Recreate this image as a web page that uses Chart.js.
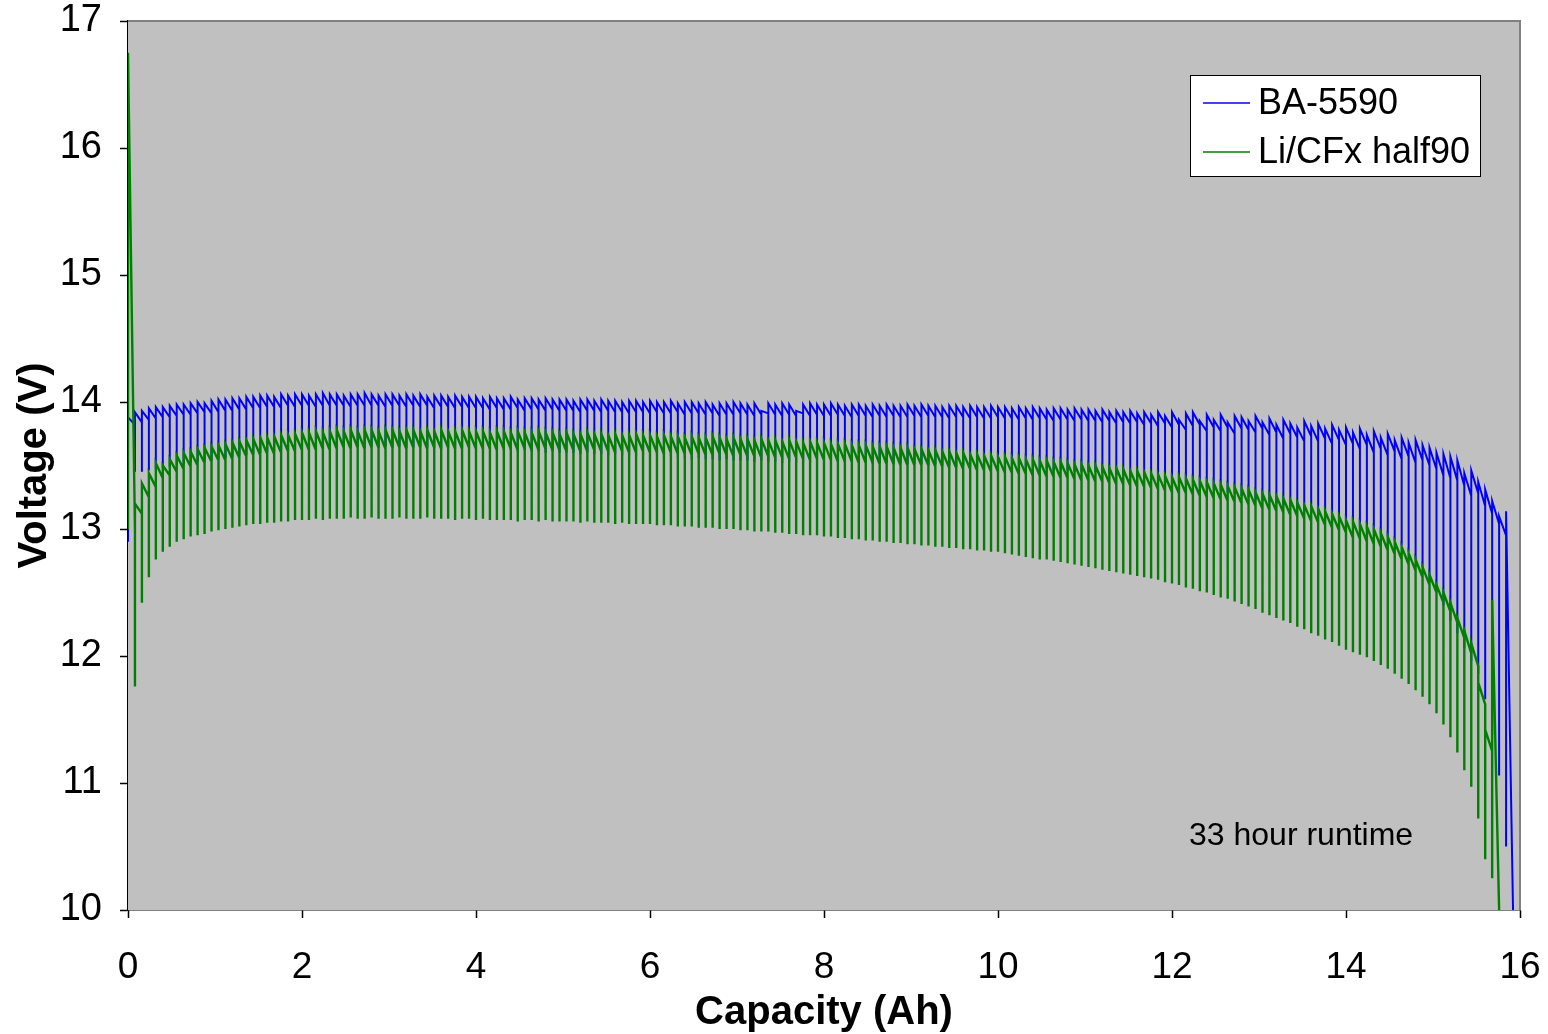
<!DOCTYPE html>
<html>
<head>
<meta charset="utf-8">
<script src="https://cdn.jsdelivr.net/npm/chart.js@4/dist/chart.umd.min.js"></script>
<style>
  html, body { margin: 0; padding: 0; background: #fff; }
  #wrap { width: 1548px; height: 1034px; }
</style>
</head>
<body>
<div id="wrap"><canvas id="chart" width="1548" height="1034"></canvas></div>
<script>
// Pulse discharge, BA-5590 vs Li/CFx half90 (33 hour runtime)

// capacity (Ah) at the start of each load pulse, one row per Ah
const pulseAh = [
  0, 0.08, 0.16, 0.24, 0.32, 0.4, 0.48, 0.56, 0.64, 0.72, 0.8, 0.88, 0.96,
  1.04, 1.12, 1.2, 1.28, 1.36, 1.44, 1.52, 1.6, 1.68, 1.76, 1.84, 1.92,
  2, 2.08, 2.16, 2.24, 2.32, 2.4, 2.48, 2.56, 2.64, 2.72, 2.8, 2.88, 2.96,
  3.04, 3.12, 3.2, 3.28, 3.36, 3.44, 3.52, 3.6, 3.68, 3.76, 3.84, 3.92,
  4, 4.08, 4.16, 4.24, 4.32, 4.4, 4.48, 4.56, 4.64, 4.72, 4.8, 4.88, 4.96,
  5.04, 5.12, 5.2, 5.28, 5.36, 5.44, 5.52, 5.6, 5.68, 5.76, 5.84, 5.92,
  6, 6.08, 6.16, 6.24, 6.32, 6.4, 6.48, 6.56, 6.64, 6.72, 6.8, 6.88, 6.96,
  7.04, 7.12, 7.2, 7.28, 7.36, 7.44, 7.52, 7.6, 7.68, 7.76, 7.84, 7.92,
  8, 8.08, 8.16, 8.24, 8.32, 8.4, 8.48, 8.56, 8.64, 8.72, 8.8, 8.88, 8.96,
  9.04, 9.12, 9.2, 9.28, 9.36, 9.44, 9.52, 9.6, 9.68, 9.76, 9.84, 9.92,
  10, 10.08, 10.16, 10.24, 10.32, 10.4, 10.48, 10.56, 10.64, 10.72, 10.8, 10.88, 10.96,
  11.04, 11.12, 11.2, 11.28, 11.36, 11.44, 11.52, 11.6, 11.68, 11.76, 11.84, 11.92,
  12, 12.08, 12.16, 12.24, 12.32, 12.4, 12.48, 12.56, 12.64, 12.72, 12.8, 12.88, 12.96,
  13.04, 13.12, 13.2, 13.28, 13.36, 13.44, 13.52, 13.6, 13.68, 13.76, 13.84, 13.92,
  14, 14.08, 14.16, 14.24, 14.32, 14.4, 14.48, 14.56, 14.64, 14.72, 14.8, 14.88, 14.96,
  15.04, 15.12, 15.2, 15.28, 15.36, 15.44, 15.52, 15.6, 15.68, 15.76, 15.84, 15.92
];

// BA-5590: voltage at pulse start (under load), recovered peak, and just before next pulse
const blueLoad = [
  12.90, 13.45, 13.45, 13.46, 13.47, 13.48, 13.49, 13.50, 13.51, 13.52, 13.53, 13.53, 13.54,
  13.55, 13.56, 13.57, 13.58, 13.58, 13.59, 13.60, 13.61, 13.61, 13.62, 13.62, 13.63,
  13.63, 13.63, 13.64, 13.64, 13.64, 13.64, 13.65, 13.64, 13.65, 13.64, 13.65, 13.64, 13.65,
  13.64, 13.65, 13.64, 13.64, 13.65, 13.64, 13.64, 13.63, 13.64, 13.63, 13.64, 13.63,
  13.63, 13.62, 13.63, 13.62, 13.62, 13.62, 13.61, 13.62, 13.61, 13.61, 13.60, 13.61, 13.60,
  13.60, 13.60, 13.59, 13.60, 13.59, 13.59, 13.58, 13.59, 13.58, 13.58, 13.57, 13.58,
  13.57, 13.57, 13.56, 13.57, 13.56, 13.56, 13.55, 13.56, 13.55, 13.55, 13.54, 13.55, 13.54,
  13.54, 13.54, 13.53, 13.54, 13.53, 13.53, 13.52, 13.53, 13.52, 13.52, 13.52, 13.53,
  13.52, 13.53, 13.52, 13.52, 13.53, 13.52, 13.52, 13.51, 13.52, 13.52, 13.51, 13.52, 13.51,
  13.51, 13.51, 13.50, 13.51, 13.50, 13.50, 13.49, 13.50, 13.49, 13.49, 13.48, 13.49,
  13.49, 13.49, 13.48, 13.48, 13.48, 13.47, 13.47, 13.47, 13.46, 13.46, 13.46, 13.45, 13.45,
  13.45, 13.45, 13.44, 13.44, 13.43, 13.43, 13.42, 13.42, 13.41, 13.40, 13.40, 13.39,
  13.38, 13.37, 13.36, 13.35, 13.34, 13.33, 13.32, 13.31, 13.29, 13.28, 13.26, 13.25, 13.23,
  13.22, 13.21, 13.20, 13.19, 13.18, 13.16, 13.15, 13.14, 13.13, 13.11, 13.10, 13.08,
  13.06, 13.04, 13.02, 13.00, 12.98, 12.96, 12.94, 12.91, 12.87, 12.82, 12.76, 12.70, 12.62,
  12.52, 12.40, 12.28, 12.18, 12.06, 11.96, 11.86, 11.66, 11.38, 11.06, 10.50
];
const bluePeak = [
  13.88, 13.92, 13.93, 13.95, 13.96, 13.96, 13.97, 13.98, 13.98, 13.99, 14.00, 13.99, 14.01,
  14.02, 14.02, 14.03, 14.03, 14.04, 14.04, 14.05, 14.05, 14.04, 14.06, 14.05, 14.06,
  14.06, 14.05, 14.06, 14.07, 14.06, 14.06, 14.05, 14.06, 14.06, 14.07, 14.06, 14.05, 14.06,
  14.06, 14.05, 14.06, 14.05, 14.06, 14.04, 14.05, 14.05, 14.04, 14.05, 14.04, 14.04,
  14.04, 14.03, 14.04, 14.03, 14.03, 14.04, 14.02, 14.03, 14.03, 14.02, 14.03, 14.02, 14.02,
  14.02, 14.01, 14.02, 14.02, 14.01, 14.02, 14.01, 14.01, 14.00, 14.01, 14.01, 14.00,
  14.01, 14.00, 14.00, 14.01, 13.99, 14.00, 14.00, 13.99, 14.00, 13.98, 13.99, 13.99, 14.00,
  13.99, 13.98, 13.99, 13.93, 13.99, 13.98, 13.99, 13.98, 13.93, 13.98, 13.99, 13.98,
  13.98, 13.99, 13.98, 13.97, 13.98, 13.98, 13.97, 13.98, 13.97, 13.98, 13.97, 13.97, 13.98,
  13.97, 13.98, 13.97, 13.97, 13.96, 13.97, 13.97, 13.96, 13.97, 13.96, 13.96, 13.97,
  13.96, 13.96, 13.95, 13.96, 13.95, 13.96, 13.95, 13.94, 13.95, 13.95, 13.94, 13.95, 13.94,
  13.94, 13.93, 13.94, 13.92, 13.93, 13.92, 13.93, 13.91, 13.92, 13.90, 13.92, 13.89,
  13.92, 13.86, 13.91, 13.92, 13.85, 13.90, 13.86, 13.90, 13.84, 13.89, 13.88, 13.85, 13.89,
  13.84, 13.87, 13.82, 13.86, 13.83, 13.80, 13.85, 13.81, 13.83, 13.79, 13.82, 13.78,
  13.80, 13.76, 13.79, 13.74, 13.77, 13.72, 13.75, 13.70, 13.72, 13.68, 13.70, 13.66, 13.64,
  13.60, 13.59, 13.57, 13.54, 13.44, 13.46, 13.37, 13.31, 13.22, 13.10, 13.14
];
const blueRest = [
  13.82, 13.84, 13.86, 13.87, 13.88, 13.88, 13.89, 13.90, 13.90, 13.91, 13.92, 13.91, 13.92,
  13.93, 13.93, 13.94, 13.94, 13.95, 13.95, 13.96, 13.96, 13.95, 13.97, 13.96, 13.97,
  13.97, 13.96, 13.97, 13.97, 13.97, 13.97, 13.96, 13.97, 13.97, 13.97, 13.97, 13.96, 13.97,
  13.97, 13.96, 13.97, 13.96, 13.97, 13.95, 13.96, 13.96, 13.95, 13.96, 13.95, 13.95,
  13.95, 13.94, 13.95, 13.94, 13.94, 13.95, 13.93, 13.94, 13.94, 13.93, 13.94, 13.93, 13.93,
  13.93, 13.92, 13.93, 13.93, 13.92, 13.93, 13.92, 13.92, 13.91, 13.92, 13.92, 13.91,
  13.92, 13.91, 13.91, 13.92, 13.90, 13.91, 13.91, 13.90, 13.91, 13.89, 13.90, 13.90, 13.91,
  13.90, 13.89, 13.90, 13.91, 13.90, 13.89, 13.90, 13.89, 13.91, 13.89, 13.90, 13.89,
  13.89, 13.90, 13.89, 13.88, 13.89, 13.89, 13.88, 13.89, 13.88, 13.89, 13.88, 13.88, 13.89,
  13.88, 13.89, 13.88, 13.88, 13.87, 13.88, 13.88, 13.87, 13.88, 13.87, 13.87, 13.88,
  13.87, 13.87, 13.86, 13.87, 13.86, 13.87, 13.86, 13.85, 13.86, 13.86, 13.85, 13.86, 13.85,
  13.85, 13.84, 13.85, 13.83, 13.84, 13.83, 13.84, 13.82, 13.83, 13.81, 13.83, 13.80,
  13.82, 13.78, 13.81, 13.82, 13.77, 13.80, 13.77, 13.80, 13.75, 13.79, 13.78, 13.76, 13.79,
  13.74, 13.76, 13.71, 13.75, 13.72, 13.69, 13.73, 13.69, 13.71, 13.67, 13.70, 13.66,
  13.67, 13.63, 13.66, 13.60, 13.63, 13.58, 13.61, 13.55, 13.57, 13.52, 13.54, 13.50, 13.47,
  13.42, 13.40, 13.38, 13.34, 13.26, 13.28, 13.18, 13.12, 13.04, 12.95, 10.00
];

// Li/CFx half90
const greenLoad = [
  13.00, 11.76, 12.42, 12.62, 12.76, 12.82, 12.86, 12.90, 12.92, 12.94, 12.95, 12.96, 12.98,
  12.99, 13.00, 13.01, 13.02, 13.03, 13.04, 13.04, 13.05, 13.05, 13.06, 13.06, 13.07,
  13.07, 13.07, 13.08, 13.07, 13.08, 13.08, 13.08, 13.09, 13.08, 13.08, 13.09, 13.08, 13.08,
  13.08, 13.09, 13.08, 13.08, 13.08, 13.09, 13.08, 13.08, 13.08, 13.07, 13.08, 13.08,
  13.07, 13.08, 13.07, 13.07, 13.07, 13.07, 13.06, 13.07, 13.07, 13.06, 13.07, 13.06, 13.06,
  13.06, 13.06, 13.05, 13.06, 13.05, 13.05, 13.05, 13.04, 13.05, 13.04, 13.04, 13.04,
  13.04, 13.03, 13.03, 13.03, 13.02, 13.02, 13.02, 13.01, 13.01, 13.01, 13.00, 13.00, 13.00,
  12.99, 12.99, 12.98, 12.98, 12.98, 12.97, 12.97, 12.96, 12.96, 12.95, 12.95, 12.95,
  12.94, 12.94, 12.93, 12.93, 12.92, 12.92, 12.91, 12.91, 12.90, 12.90, 12.89, 12.89, 12.88,
  12.88, 12.87, 12.87, 12.86, 12.86, 12.85, 12.85, 12.84, 12.84, 12.83, 12.83, 12.82,
  12.82, 12.81, 12.80, 12.79, 12.78, 12.77, 12.76, 12.76, 12.75, 12.74, 12.73, 12.72, 12.71,
  12.70, 12.69, 12.68, 12.67, 12.66, 12.65, 12.64, 12.63, 12.62, 12.61, 12.60, 12.58,
  12.57, 12.56, 12.54, 12.53, 12.51, 12.50, 12.48, 12.46, 12.45, 12.43, 12.41, 12.39, 12.37,
  12.34, 12.32, 12.30, 12.28, 12.26, 12.23, 12.21, 12.18, 12.16, 12.13, 12.11, 12.08,
  12.05, 12.03, 12.01, 11.99, 11.96, 11.93, 11.90, 11.86, 11.82, 11.78, 11.73, 11.68, 11.62,
  11.55, 11.46, 11.36, 11.24, 11.10, 10.97, 10.72, 10.40, 10.25
];
const greenPeak = [
  16.75, 13.20, 13.36, 13.44, 13.52, 13.50, 13.55, 13.58, 13.60, 13.61, 13.63, 13.64, 13.65,
  13.66, 13.67, 13.68, 13.69, 13.70, 13.71, 13.72, 13.72, 13.73, 13.74, 13.74, 13.75,
  13.76, 13.76, 13.77, 13.76, 13.77, 13.78, 13.77, 13.78, 13.77, 13.78, 13.78, 13.77, 13.78,
  13.78, 13.77, 13.78, 13.78, 13.77, 13.78, 13.77, 13.78, 13.77, 13.77, 13.78, 13.77,
  13.77, 13.77, 13.76, 13.77, 13.77, 13.76, 13.77, 13.76, 13.76, 13.77, 13.76, 13.76, 13.75,
  13.76, 13.75, 13.75, 13.76, 13.75, 13.75, 13.74, 13.75, 13.74, 13.74, 13.75, 13.74,
  13.74, 13.73, 13.74, 13.73, 13.73, 13.72, 13.73, 13.72, 13.72, 13.73, 13.72, 13.71, 13.72,
  13.71, 13.71, 13.70, 13.71, 13.70, 13.70, 13.69, 13.70, 13.69, 13.68, 13.69, 13.68,
  13.68, 13.67, 13.67, 13.67, 13.66, 13.66, 13.66, 13.65, 13.65, 13.65, 13.64, 13.64, 13.64,
  13.63, 13.63, 13.62, 13.62, 13.61, 13.61, 13.60, 13.60, 13.59, 13.59, 13.58, 13.58,
  13.57, 13.57, 13.56, 13.56, 13.55, 13.55, 13.54, 13.54, 13.53, 13.53, 13.52, 13.51, 13.51,
  13.50, 13.50, 13.49, 13.48, 13.48, 13.47, 13.46, 13.46, 13.45, 13.44, 13.43, 13.42,
  13.41, 13.41, 13.40, 13.39, 13.38, 13.37, 13.36, 13.35, 13.34, 13.33, 13.32, 13.31, 13.29,
  13.28, 13.27, 13.26, 13.24, 13.23, 13.21, 13.19, 13.18, 13.16, 13.14, 13.12, 13.10,
  13.07, 13.06, 13.04, 13.02, 13.00, 12.97, 12.94, 12.90, 12.86, 12.81, 12.76, 12.70, 12.64,
  12.56, 12.50, 12.42, 12.30, 12.20, 12.10, 11.79, 11.42, 12.44
];
const greenRest = [
  13.00, 13.12, 13.25, 13.33, 13.40, 13.42, 13.45, 13.47, 13.49, 13.50, 13.52, 13.53, 13.54,
  13.54, 13.55, 13.56, 13.57, 13.58, 13.58, 13.59, 13.59, 13.60, 13.61, 13.61, 13.62,
  13.62, 13.62, 13.63, 13.62, 13.63, 13.64, 13.63, 13.64, 13.63, 13.64, 13.64, 13.63, 13.64,
  13.64, 13.63, 13.64, 13.64, 13.63, 13.64, 13.63, 13.64, 13.63, 13.63, 13.64, 13.63,
  13.63, 13.63, 13.62, 13.63, 13.63, 13.62, 13.63, 13.62, 13.62, 13.63, 13.62, 13.62, 13.61,
  13.62, 13.61, 13.61, 13.62, 13.61, 13.61, 13.60, 13.61, 13.60, 13.60, 13.61, 13.60,
  13.60, 13.59, 13.60, 13.59, 13.59, 13.58, 13.59, 13.58, 13.58, 13.59, 13.58, 13.57, 13.58,
  13.57, 13.57, 13.56, 13.57, 13.56, 13.56, 13.55, 13.56, 13.55, 13.54, 13.55, 13.54,
  13.54, 13.53, 13.53, 13.53, 13.52, 13.52, 13.52, 13.51, 13.51, 13.51, 13.50, 13.50, 13.50,
  13.50, 13.50, 13.49, 13.49, 13.48, 13.48, 13.47, 13.47, 13.46, 13.46, 13.45, 13.45,
  13.44, 13.44, 13.43, 13.43, 13.42, 13.42, 13.41, 13.41, 13.40, 13.40, 13.39, 13.38, 13.38,
  13.37, 13.37, 13.36, 13.35, 13.35, 13.34, 13.33, 13.33, 13.32, 13.31, 13.30, 13.29,
  13.28, 13.28, 13.27, 13.26, 13.25, 13.24, 13.23, 13.22, 13.21, 13.20, 13.19, 13.18, 13.16,
  13.15, 13.14, 13.13, 13.11, 13.10, 13.08, 13.06, 13.05, 13.03, 13.01, 12.99, 12.97,
  12.93, 12.92, 12.90, 12.88, 12.86, 12.83, 12.80, 12.76, 12.72, 12.67, 12.62, 12.56, 12.50,
  12.42, 12.35, 12.26, 12.14, 12.02, 11.92, 11.62, 11.25, 10.00
];

const seriesNames = ['BA-5590', 'Li/CFx half90'];
const seriesColors = ['#0000ff', '#008000'];
const xTicks = [0, 2, 4, 6, 8, 10, 12, 14, 16];
const yTicks = [10, 11, 12, 13, 14, 15, 16, 17];
const note = '33 hour runtime';

const FONT = '"Liberation Sans", Arial, Helvetica, sans-serif';

// each pulse: drop to load voltage, recover to peak, sag until next pulse
function pulsePoints(load, peak, rest) {
  const pts = [];
  for (let i = 0; i < peak.length; i++) {
    pts.push({ x: pulseAh[i], y: load[i] });
    pts.push({ x: pulseAh[i], y: peak[i] });
    pts.push({ x: pulseAh[i + 1], y: rest[i] });
  }
  return pts;
}

// keep the plot box fixed, tick labels may overflow into the margins
function noLabelPadding(scale) {
  scale.paddingTop = 0;
  scale.paddingBottom = 0;
  scale.paddingLeft = 0;
  scale.paddingRight = 0;
}

const plotFrame = {
  id: 'plotFrame',
  beforeDatasetsDraw(chart) {
    const { ctx, chartArea: a } = chart;
    ctx.save();
    ctx.fillStyle = '#c0c0c0';
    ctx.fillRect(a.left, a.top, a.right - a.left, a.bottom - a.top);
    ctx.restore();
  },
  afterDraw(chart) {
    const { ctx, chartArea: a } = chart;
    ctx.save();
    ctx.strokeStyle = '#808080';
    ctx.lineWidth = 2;
    ctx.beginPath();
    ctx.moveTo(a.left, a.top);
    ctx.lineTo(a.right, a.top);
    ctx.lineTo(a.right, a.bottom);
    ctx.stroke();

    // legend box
    const lx = 1190, ly = 75, lw = 290, lh = 101;
    ctx.fillStyle = '#fff';
    ctx.fillRect(lx, ly, lw, lh);
    ctx.strokeStyle = '#000';
    ctx.lineWidth = 1;
    ctx.strokeRect(lx + 0.5, ly + 0.5, lw, lh);
    ctx.font = '36px ' + FONT;
    ctx.textBaseline = 'middle';
    seriesNames.forEach((name, i) => {
      const y = 103 + i * 49;
      ctx.strokeStyle = seriesColors[i];
      ctx.lineWidth = 1.5;
      ctx.beginPath();
      ctx.moveTo(1203, y);
      ctx.lineTo(1250, y);
      ctx.stroke();
      ctx.fillStyle = '#000';
      ctx.fillText(name, 1258, y + 1);
    });

    // runtime note
    ctx.font = '32px ' + FONT;
    ctx.fillText(note, 1189, 836);
    ctx.restore();
  }
};

new Chart(document.getElementById('chart'), {
  type: 'line',
  data: {
    datasets: [
      {
        label: seriesNames[0],
        data: pulsePoints(blueLoad, bluePeak, blueRest),
        borderColor: seriesColors[0],
        borderWidth: 2,
        order: 1
      },
      {
        label: seriesNames[1],
        data: pulsePoints(greenLoad, greenPeak, greenRest),
        borderColor: seriesColors[1],
        borderWidth: 2.4,
        order: 0
      }
    ]
  },
  options: {
    responsive: false,
    devicePixelRatio: 1,
    animation: false,
    events: [],
    elements: {
      point: { radius: 0 },
      line: { tension: 0, fill: false, borderJoinStyle: 'miter' }
    },
    layout: { padding: { left: 0, right: 28, top: 21, bottom: 0 } },
    plugins: {
      legend: { display: false },
      tooltip: { enabled: false }
    },
    scales: {
      x: {
        type: 'linear',
        min: 0,
        max: 16,
        afterBuildTicks(scale) {
          scale.ticks = xTicks.map(v => ({ value: v }));
        },
        afterFit(scale) {
          scale.height = 124;
          noLabelPadding(scale);
        },
        border: { color: '#000', width: 1.5 },
        grid: { drawOnChartArea: false, tickLength: 8, tickColor: '#000', tickWidth: 1.5 },
        ticks: { color: '#000', font: { family: FONT, size: 37 }, padding: 28, maxRotation: 0 },
        title: {
          display: true,
          text: 'Capacity (Ah)',
          color: '#000',
          font: { family: FONT, size: 40, weight: 'bold' },
          padding: { top: 0, bottom: -3 }
        }
      },
      y: {
        type: 'linear',
        min: 10,
        max: 17,
        afterBuildTicks(scale) {
          scale.ticks = yTicks.map(v => ({ value: v }));
        },
        afterFit(scale) {
          scale.width = 128;
          noLabelPadding(scale);
        },
        border: { color: '#000', width: 1.5 },
        grid: { drawOnChartArea: false, tickLength: 8, tickColor: '#000', tickWidth: 1.5 },
        ticks: { color: '#000', font: { family: FONT, size: 38 }, padding: 18 },
        title: {
          display: true,
          text: 'Voltage (V)',
          color: '#000',
          font: { family: FONT, size: 40, weight: 'bold' },
          padding: { top: 11, bottom: 0 }
        }
      }
    }
  },
  plugins: [plotFrame]
});
</script>
</body>
</html>
